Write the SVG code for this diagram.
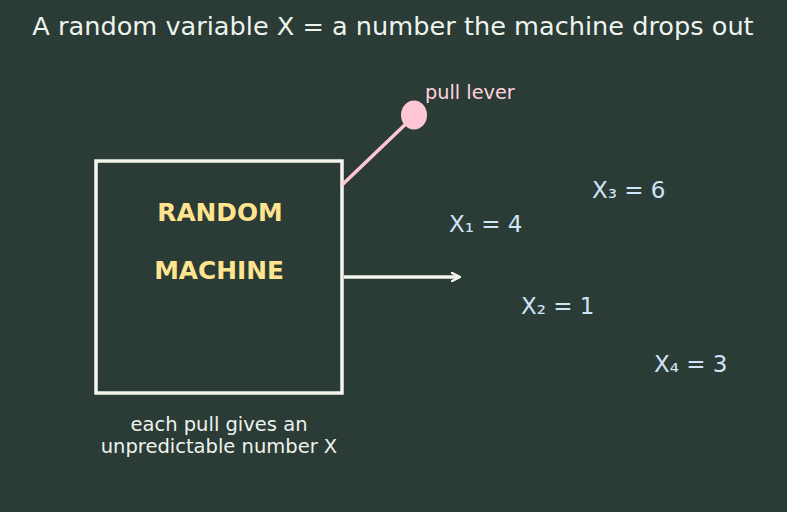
<svg xmlns="http://www.w3.org/2000/svg" width="787" height="512" viewBox="0 0 787 512">
<defs>
<style>
.t{font-family:"DejaVu Sans",sans-serif;}
.title{font-size:25.6px;fill:#eef3ee;}
.mach{font-size:24.8px;font-weight:bold;fill:#ffe48f;}
.val{font-size:23px;fill:#cfe4f6;}
.cap{font-size:19.5px;fill:#eef3ee;}
.lev{font-size:19.3px;fill:#ffd3df;}
</style>
<marker id="ah" markerWidth="10" markerHeight="10" refX="8" refY="5" orient="auto" markerUnits="userSpaceOnUse">
<path d="M1,1 L9,5 L1,9" fill="none" stroke="#f5f5ee" stroke-width="2.5" stroke-linecap="round" stroke-linejoin="round"/>
</marker>
</defs>
<rect width="787" height="512" fill="#2b3b35"/>
<text class="t title" x="393" y="35" text-anchor="middle">A random variable X = a number the machine drops out</text>
<g id="machine">
<rect x="96" y="161" width="246" height="232" fill="none" stroke="#f5f5ee" stroke-width="3.5"/>
<text class="t mach" x="220" y="221" text-anchor="middle">RANDOM</text>
<text class="t mach" x="219" y="279" text-anchor="middle">MACHINE</text>
</g>
<g id="lever">
<line x1="342" y1="185" x2="412" y2="118" stroke="#ffc6d6" stroke-width="3.5"/>
<ellipse cx="414" cy="115" rx="13" ry="14.5" fill="#ffc6d6"/>
<text class="t lev" x="425" y="99">pull lever</text>
</g>
<g id="connectors">
<line x1="344" y1="277" x2="459" y2="277" stroke="#f5f5ee" stroke-width="3.5" marker-end="url(#ah)"/>
</g>
<g id="x1"><text class="t val" x="449" y="232">X₁ = 4</text></g>
<g id="x2"><text class="t val" x="521" y="314">X₂ = 1</text></g>
<g id="x3"><text class="t val" x="592" y="198">X₃ = 6</text></g>
<g id="x4"><text class="t val" x="654" y="372">X₄ = 3</text></g>
<g id="caption">
<text class="t cap" x="219" y="431" text-anchor="middle">each pull gives an</text>
<text class="t cap" x="219" y="453" text-anchor="middle">unpredictable number X</text>
</g>
</svg>
